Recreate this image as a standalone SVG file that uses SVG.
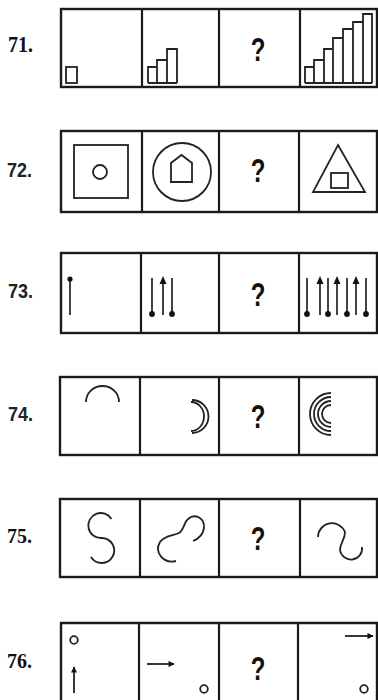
<svg xmlns="http://www.w3.org/2000/svg" width="378" height="700" viewBox="0 0 378 700">
<style>
.frame{fill:none;stroke:#1a1a1a;stroke-width:2.4}
.div{stroke:#1a1a1a;stroke-width:2.2}
.sh{fill:none;stroke:#222;stroke-width:1.8}
.thin{fill:none;stroke:#222;stroke-width:1.7}
.q{font-family:"Liberation Sans",Arial,sans-serif;font-weight:bold;font-size:24px;fill:#111;text-anchor:middle}
.ls{font-family:"Liberation Serif","Times New Roman",serif;font-weight:bold;font-size:20px;fill:#111}
.la{font-family:"Liberation Sans",Arial,sans-serif;font-weight:bold;font-size:18px;fill:#222}
.dot{fill:#111}
</style>
<defs>
<marker id="ah" viewBox="0 0 10 10" refX="9" refY="5" markerWidth="4.2" markerHeight="3.4" orient="auto"><path d="M0,0 L10,5 L0,10 Z" fill="#111"/></marker>
</defs>
<rect width="378" height="700" fill="#fff"/>

<!-- Row 71 -->
<g id="row71">
<text class="ls" transform="translate(8,52) scale(1,1.15)">71.</text>
<rect class="frame" x="61" y="9" width="316" height="78"/>
<line class="div" x1="142" y1="9" x2="142" y2="87"/>
<line class="div" x1="219" y1="9" x2="219" y2="87"/>
<line class="div" x1="300" y1="9" x2="300" y2="87"/>
<g id="c71a"><rect class="sh" x="66" y="67" width="11" height="16"/></g>
<g id="c71b"><path class="sh" d="M148,83 V67 H157 V83 M157,83 V60 H167 V83 M167,83 V49 H177 V83 M148,83 H177"/></g>
<g id="c71c"><text class="q" transform="translate(258,61) scale(1,1.4)">?</text></g>
<g id="c71d"><path class="sh" d="M305,83 H372 M305,83 V67 H314 V83 M314,83 V60 H324 V83 M324,83 V49 H333 V83 M333,83 V38 H343 V83 M343,83 V29 H353 V83 M353,83 V22 H363 V83 M363,83 V14 H372 V83"/></g>
</g>

<!-- Row 72 -->
<g id="row72">
<text class="la" transform="translate(7,177) scale(1,1.15)">72.</text>
<rect class="frame" x="61" y="131" width="316" height="81"/>
<line class="div" x1="142" y1="131" x2="142" y2="212"/>
<line class="div" x1="219" y1="131" x2="219" y2="212"/>
<line class="div" x1="299" y1="131" x2="299" y2="212"/>
<g id="c72a"><rect class="sh" x="74" y="145" width="54" height="53"/><circle class="sh" cx="100" cy="172" r="7"/></g>
<g id="c72b"><circle class="sh" cx="182" cy="172" r="29"/><path class="sh" d="M171,182 V163 L181.5,155 L192,163 V182 Z"/></g>
<g id="c72c"><text class="q" transform="translate(258,182) scale(1,1.35)">?</text></g>
<g id="c72d"><path class="sh" d="M338,145 L365,192 H313 Z"/><rect class="sh" x="331" y="173" width="17" height="15"/></g>
</g>

<!-- Row 73 -->
<g id="row73">
<text class="la" transform="translate(8,298) scale(1,1.15)">73.</text>
<rect class="frame" x="61" y="253" width="316" height="80"/>
<line class="div" x1="141" y1="253" x2="141" y2="333"/>
<line class="div" x1="219" y1="253" x2="219" y2="333"/>
<line class="div" x1="299" y1="253" x2="299" y2="333"/>
<g id="c73a"><line class="thin" x1="70" y1="279" x2="70" y2="315"/><circle class="dot" cx="70" cy="279" r="2.6"/></g>
<g id="c73b">
<line class="thin" x1="152" y1="278" x2="152" y2="314"/><circle class="dot" cx="152" cy="314" r="2.9"/>
<line class="thin" x1="163" y1="281" x2="163" y2="315"/><path class="dot" d="M163,276 L166.5,284 H159.5 Z"/>
<line class="thin" x1="172" y1="278" x2="172" y2="314"/><circle class="dot" cx="172" cy="314" r="2.9"/>
</g>
<g id="c73c"><text class="q" transform="translate(258,306) scale(1,1.35)">?</text></g>
<g id="c73d">
<line class="thin" x1="307" y1="278" x2="307" y2="314"/><circle class="dot" cx="307" cy="314" r="2.9"/>
<line class="thin" x1="320" y1="281" x2="320" y2="315"/><path class="dot" d="M320,276 L323.5,284 H316.5 Z"/>
<line class="thin" x1="328" y1="278" x2="328" y2="314"/><circle class="dot" cx="328" cy="314" r="2.9"/>
<line class="thin" x1="337" y1="281" x2="337" y2="315"/><path class="dot" d="M337,276 L340.5,284 H333.5 Z"/>
<line class="thin" x1="347" y1="278" x2="347" y2="314"/><circle class="dot" cx="347" cy="314" r="2.9"/>
<line class="thin" x1="356" y1="281" x2="356" y2="315"/><path class="dot" d="M356,276 L359.5,284 H352.5 Z"/>
<line class="thin" x1="366" y1="278" x2="366" y2="314"/><circle class="dot" cx="366" cy="314" r="2.9"/>
</g>
</g>

<!-- Row 74 -->
<g id="row74">
<text class="la" transform="translate(8,421) scale(1,1.1)">74.</text>
<rect class="frame" x="60" y="377" width="317" height="78"/>
<line class="div" x1="140" y1="377" x2="140" y2="455"/>
<line class="div" x1="219" y1="377" x2="219" y2="455"/>
<line class="div" x1="299" y1="377" x2="299" y2="455"/>
<g id="c74a"><path class="sh" d="M86,402 A16.5,16 0 0 1 119,402"/></g>
<g id="c74b"><path class="sh" d="M192,400 A16.5,16.5 0 0 1 192,433 M191,402 A13,14.5 0 0 1 191,431"/></g>
<g id="c74c"><text class="q" transform="translate(258,428) scale(1,1.35)">?</text></g>
<g id="c74d"><path class="sh" d="M331,393 A21,21 0 0 0 331,435 M331,397 A17,17 0 0 0 331,431 M331,401 A13,13 0 0 0 331,427 M331,405 A9,9 0 0 0 331,423"/></g>
</g>

<!-- Row 75 -->
<g id="row75">
<text class="ls" transform="translate(7,543) scale(1,1.1)">75.</text>
<rect class="frame" x="60" y="499" width="317" height="78"/>
<line class="div" x1="140" y1="499" x2="140" y2="577"/>
<line class="div" x1="219" y1="499" x2="219" y2="577"/>
<line class="div" x1="300" y1="499" x2="300" y2="577"/>
<g id="c75a"><path class="sh" d="M111.5,519 A12.5,12.5 0 1 0 101.5,538 A12.5,12.5 0 1 1 91,557"/></g>
<g id="c75b"><path class="sh" d="M176,561 C163,564 154,552 160,542 C165,535 173,536 179,533 C184,530 184,522 188,519 C195,513 205,518 204,528 C203,535 198,539 193,541"/></g>
<g id="c75c"><text class="q" transform="translate(258,550) scale(1,1.35)">?</text></g>
<g id="c75d"><path class="sh" d="M318,537 A14,14 0 0 1 345,532 C345,540 340,543 340,550 A11,11 0 0 0 362,547"/></g>
</g>

<!-- Row 76 -->
<g id="row76">
<text class="ls" transform="translate(7,668) scale(1,1.1)">76.</text>
<path class="frame" d="M61,702 V623 H377 V702"/>
<line class="div" x1="139" y1="623" x2="139" y2="702"/>
<line class="div" x1="219" y1="623" x2="219" y2="702"/>
<line class="div" x1="298" y1="623" x2="298" y2="702"/>
<g id="c76a"><circle class="sh" cx="74" cy="640" r="3.8"/><line class="sh" x1="74" y1="693" x2="74" y2="667" marker-end="url(#ah)"/></g>
<g id="c76b"><line class="sh" x1="147" y1="664" x2="174" y2="664" marker-end="url(#ah)"/><circle class="sh" cx="204" cy="689" r="3.8"/></g>
<g id="c76c"><text class="q" transform="translate(258,680) scale(1,1.35)">?</text></g>
<g id="c76d"><line class="sh" x1="345" y1="636" x2="373" y2="636" marker-end="url(#ah)"/><circle class="sh" cx="364" cy="689" r="3.8"/></g>
</g>
</svg>
